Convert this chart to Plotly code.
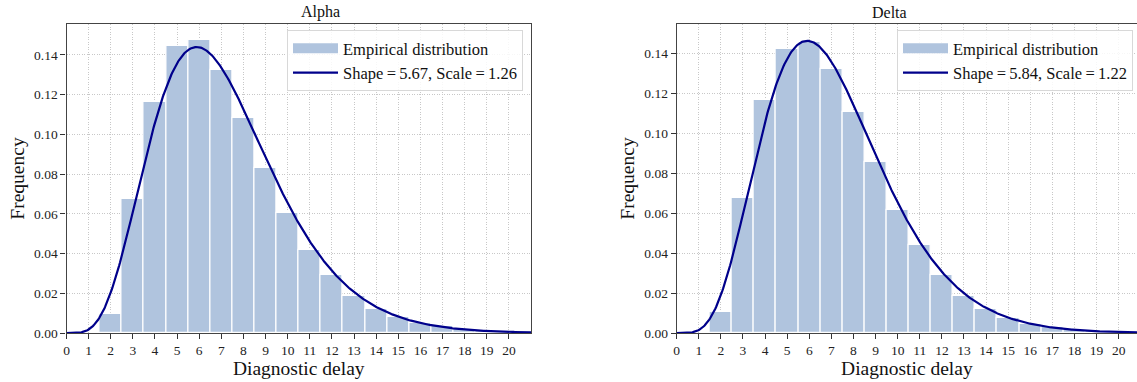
import math
import numpy as np
import plotly.graph_objects as go

# Diagnostic delay (days) bin centres
delays = list(range(2, 21))

# Empirical frequency per delay bin
alpha_freq = [0.0097, 0.0673, 0.1165, 0.1445, 0.1476, 0.1324, 0.1081, 0.0830, 0.0602,
              0.0417, 0.0291, 0.0187, 0.0123, 0.0081, 0.0050, 0.0035, 0.0020, 0.0011, 0.0005]
delta_freq = [0.0107, 0.0673, 0.1165, 0.1418, 0.1456, 0.1318, 0.1103, 0.0854, 0.0614,
              0.0439, 0.0290, 0.0185, 0.0122, 0.0075, 0.0047, 0.0030, 0.0016, 0.0008, 0.0004]

# Fitted gamma parameters
alpha_shape, alpha_scale = 5.67, 1.26
delta_shape, delta_scale = 5.84, 1.22

x_ticks = list(range(0, 21))
y_ticks = [0.00, 0.02, 0.04, 0.06, 0.08, 0.10, 0.12, 0.14]


def gamma_pdf(x, k, theta):
    x = np.asarray(x, dtype=float)
    out = np.zeros_like(x)
    m = x > 0
    out[m] = np.exp((k - 1) * np.log(x[m]) - x[m] / theta - math.lgamma(k) - k * math.log(theta))
    return out


xs = np.linspace(0, 21, 600)

SERIF = "Liberation Serif, Times New Roman, serif"
BAR_COLOR = "#B0C4DE"
LINE_COLOR = "#00008B"
EQ = "\u2009=\u2009"

fig = go.Figure()

panels = [
    (alpha_freq, alpha_shape, alpha_scale, "x", "y", "legend"),
    (delta_freq, delta_shape, delta_scale, "x2", "y2", "legend2"),
]

for freq, k, theta, xa, ya, lg in panels:
    fig.add_trace(go.Bar(
        x=delays, y=freq, width=1.0,
        marker=dict(color=BAR_COLOR, line=dict(color="white", width=1.2)),
        showlegend=False, xaxis=xa, yaxis=ya,
    ))
    # wide patch used as the legend key for the histogram
    fig.add_trace(go.Scatter(
        x=[None], y=[None], mode="lines",
        line=dict(color=BAR_COLOR, width=10),
        name="Empirical distribution", xaxis=xa, yaxis=ya, legend=lg,
    ))
    fig.add_trace(go.Scatter(
        x=xs, y=gamma_pdf(xs, k, theta), mode="lines",
        line=dict(color=LINE_COLOR, width=2.2),
        name=f"Shape{EQ}{k:.2f}, Scale{EQ}{theta:.2f}",
        xaxis=xa, yaxis=ya, legend=lg,
    ))

W, H = 1137, 382
T, B = 24, 49
PH = H - T - B

axis_common = dict(
    showgrid=True, gridcolor="#c8c8c8", griddash="1px,1.5px", gridwidth=1,
    showline=True, linecolor="#444", linewidth=1.2,
    ticks="outside", ticklen=5, tickwidth=1.2, tickcolor="#333",
    tickfont=dict(family=SERIF, size=13.5, color="#222"),
    zeroline=False,
)

xaxis_common = dict(axis_common, tickmode="array", tickvals=x_ticks,
                    title=dict(text="Diagnostic delay", font=dict(family=SERIF, size=19.5, color="#111"), standoff=1))
yaxis_common = dict(axis_common, tickmode="array", tickvals=y_ticks, tickformat=".2f",
                    title=dict(text="Frequency", font=dict(family=SERIF, size=19.5, color="#111"), standoff=4))

left_dom = [66.5 / W, 531 / W]
right_dom = [676.7 / W, 1.0]


def py(px):
    # pixel row from the top of the page -> paper y
    return 1 - (px - T) / PH


legend_common = dict(
    bgcolor="rgba(255,255,255,0.85)", bordercolor="#d8d8d8", borderwidth=1,
    font=dict(family=SERIF, size=16.5, color="#111"),
    xanchor="left", yanchor="top", itemwidth=45, tracegroupgap=0,
)

fig.update_layout(
    width=W, height=H,
    margin=dict(l=0, r=0, t=T, b=B, autoexpand=False),
    paper_bgcolor="white", plot_bgcolor="white",
    bargap=0,
    showlegend=True,
    xaxis=dict(xaxis_common, domain=left_dom, range=[0, 21], anchor="y", mirror=True),
    yaxis=dict(yaxis_common, domain=[0, 1], range=[0, 0.1555], anchor="x", mirror=True),
    xaxis2=dict(xaxis_common, domain=right_dom, range=[0, 20.83], anchor="y2", mirror=True),
    yaxis2=dict(yaxis_common, domain=[0, 1], range=[0, 0.1545], anchor="x2"),
    legend=dict(legend_common, x=287 / W, y=py(30)),
    legend2=dict(legend_common, x=897 / W, y=py(30)),
    annotations=[
        dict(text="Alpha", x=(left_dom[0] + left_dom[1]) / 2, y=py(12), xref="paper", yref="paper",
             showarrow=False, font=dict(family=SERIF, size=16, color="#111"), yanchor="middle"),
        dict(text="Delta", x=(676.7 + 464.5 / 2) / W, y=py(12), xref="paper", yref="paper",
             showarrow=False, font=dict(family=SERIF, size=16, color="#111"), yanchor="middle"),
    ],
)

fig.write_html("out.html")
